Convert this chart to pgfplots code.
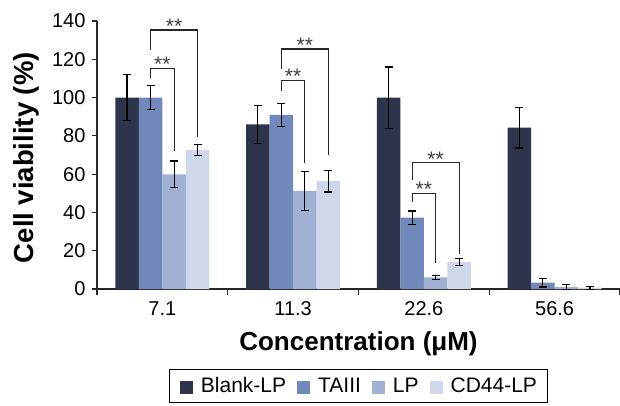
\documentclass[border=0pt]{standalone}
\usepackage{fontspec}
\setmainfont{Liberation Sans}
\usepackage{pgfplots}
\pgfplotsset{compat=1.18}

\definecolor{cBlank}{RGB}{46,52,76}
\definecolor{cTA}{RGB}{112,137,186}
\definecolor{cLP}{RGB}{160,177,212}
\definecolor{cCD}{RGB}{208,215,234}

\begin{document}
\begin{tikzpicture}
  \begin{axis}[
      name=ax,
      scale only axis,
      width=523pt, height=268pt,
      xmin=-0.5, xmax=3.5,
      ymin=0, ymax=140,
      axis lines=left,
      axis line style={-, line width=1.1pt, black!85},
      clip=false,
      ybar=0pt,
      bar width=0.18,
      xtick={0,1,2,3},
      xticklabels={7.1, 11.3, 22.6, 56.6},
      major x tick style={draw=none},
      minor xtick={-0.5,0.5,1.5,2.5,3.5},
      minor x tick style={line width=1.1pt, black!85},
      minor tick length=6pt,
      ytick={0,20,...,140},
      major y tick style={line width=1.1pt, black!85},
      major tick length=5pt,
      tick align=outside,
      /pgf/number format/assume math mode=true,
      tick label style={font=\fontsize{20}{24}\selectfont},
      yticklabel style={xshift=-3pt},
      xticklabel style={yshift=-4pt},
      xlabel={\bfseries Concentration (μM)},
      ylabel={\bfseries Cell viability (\%)},
      xlabel style={font=\fontsize{26}{30}\selectfont,
        at={(axis description cs:0.5,-0.229)}, anchor=base},
      ylabel style={font=\fontsize{27.5}{32}\selectfont,
        at={(axis description cs:-0.1205,0.49)}, anchor=base},
      legend style={
        at={(0.5,-0.2985)}, anchor=north,
        legend columns=4,
        draw=black, line width=1pt,
        font=\fontsize{21}{25}\selectfont,
        inner xsep=10pt, inner ysep=8pt,
        nodes={inner sep=0pt},
        /tikz/every odd column/.append style={column sep=8pt},
        /tikz/every even column/.append style={column sep=11pt},
      },
      legend image code/.code={\fill[#1] (0pt,-8pt) rectangle (13pt,5pt);},
      error bars/error mark=|,
      error bars/error bar style={line width=1.2pt, black},
      error bars/error mark options={line width=1.2pt, black, mark size=4pt},
    ]
    % Blank-LP
    \addplot[fill=cBlank, draw=none, error bars/.cd, y dir=both, y explicit]
      coordinates {
        (0,100)  +- (0,12)
        (1,86)   +- (0,10)
        (2,100)  +- (0,16)
        (3,84.3) +- (0,10.6)
      };
    % TAIII
    \addplot[fill=cTA, draw=none, error bars/.cd, y dir=both, y explicit]
      coordinates {
        (0,100)  +- (0,6.3)
        (1,90.9) +- (0,5.9)
        (2,37.3) +- (0,3.5)
        (3,3.3)  +- (0,2.3)
      };
    % LP
    \addplot[fill=cLP, draw=none, error bars/.cd, y dir=both, y explicit]
      coordinates {
        (0,59.9) +- (0,7)
        (1,51.2) +- (0,10.1)
        (2,6.1)  +- (0,1.1)
        (3,1.0)  +- (0,1.3)
      };
    % CD44-LP
    \addplot[fill=cCD, draw=none, error bars/.cd, y dir=both, y explicit]
      coordinates {
        (0,72.5) +- (0,2.8)
        (1,56.4) +- (0,5.7)
        (2,14.1) +- (0,1.9)
        (3,0.7)  +- (0,0.8)
      };
    \legend{Blank-LP, TAIII, LP, CD44-LP}

    % significance brackets
    \begin{scope}[line width=1.1pt, black!85]
      \draw (axis cs:-0.09,110) |- (axis cs:0.09,115.3) -- (axis cs:0.09,72);
      \draw (axis cs:-0.09,125) |- (axis cs:0.27,135.3) -- (axis cs:0.27,79.6);
      \draw (axis cs:0.91,103.6) |- (axis cs:1.09,109) -- (axis cs:1.09,65.7);
      \draw (axis cs:0.91,115) |- (axis cs:1.27,125.4) -- (axis cs:1.27,70);
      \draw (axis cs:1.91,45.6) |- (axis cs:2.09,50) -- (axis cs:2.09,13.4);
      \draw (axis cs:1.91,57) |- (axis cs:2.27,66) -- (axis cs:2.27,18.1);
    \end{scope}
    \begin{scope}[every node/.style={anchor=base, inner sep=0pt, yshift=-3.5pt,
        font=\fontsize{21}{25}\selectfont, text=black!75}]
      \node at (axis cs:0,115.3) {**};
      \node at (axis cs:0.09,135.3) {**};
      \node at (axis cs:1,109) {**};
      \node at (axis cs:1.09,125.4) {**};
      \node at (axis cs:2,50) {**};
      \node at (axis cs:2.09,66) {**};
    \end{scope}
  \end{axis}
  \pgfresetboundingbox
  \path ([xshift=-97pt,yshift=-116pt]ax.south west) rectangle ([yshift=21pt]ax.north east);
\end{tikzpicture}
\end{document}
